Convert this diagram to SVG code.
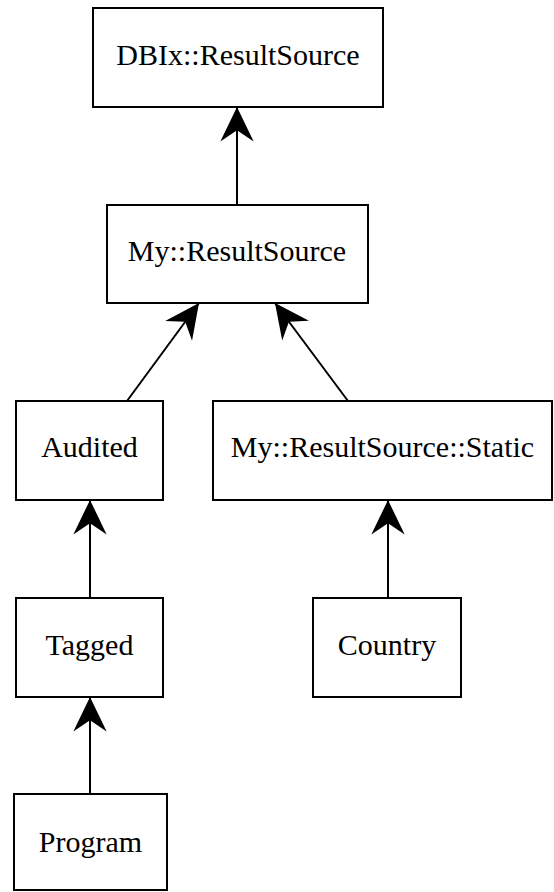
<svg xmlns="http://www.w3.org/2000/svg" width="554" height="892" viewBox="0 0 554 892">
  <style>
    .box { fill: #ffffff; stroke: #000000; stroke-width: 2; }
    .label { font-family: "Liberation Serif", "Times New Roman", serif; font-size: 30px; fill: #000000; text-anchor: middle; }
    .edge { fill: none; stroke: #000000; stroke-width: 2; marker-end: url(#vee); }
  </style>
  <defs>
    <marker id="vee" markerUnits="userSpaceOnUse" markerWidth="40" markerHeight="40" viewBox="-34 -18 36 36" refX="0" refY="0" orient="auto">
      <path d="M0,0 L-31,-15 L-21,0 L-31,15 Z" fill="#000000"/>
    </marker>
  </defs>
  <rect width="554" height="892" fill="#ffffff"/>

  <g id="connectors">
    <line class="edge" x1="237" y1="205" x2="237" y2="107"/>
    <line class="edge" x1="127" y1="401" x2="199" y2="303"/>
    <line class="edge" x1="348" y1="401" x2="275" y2="303"/>
    <line class="edge" x1="90" y1="598" x2="90" y2="500"/>
    <line class="edge" x1="388" y1="598" x2="388" y2="500"/>
    <line class="edge" x1="90" y1="794" x2="90" y2="697"/>
  </g>

  <g id="dbix-resultsource">
    <rect class="box" x="93" y="8" width="290" height="99"/>
    <text class="label" x="238" y="65">DBIx::ResultSource</text>
  </g>
  <g id="my-resultsource">
    <rect class="box" x="107" y="205" width="261" height="98"/>
    <text class="label" x="237" y="261">My::ResultSource</text>
  </g>
  <g id="audited">
    <rect class="box" x="16" y="401" width="147" height="99"/>
    <text class="label" x="89.5" y="457">Audited</text>
  </g>
  <g id="my-resultsource-static">
    <rect class="box" x="213" y="401" width="339" height="99"/>
    <text class="label" x="382.5" y="457">My::ResultSource::Static</text>
  </g>
  <g id="tagged">
    <rect class="box" x="16" y="598" width="147" height="99"/>
    <text class="label" x="89.5" y="655">Tagged</text>
  </g>
  <g id="country">
    <rect class="box" x="313" y="598" width="148" height="99"/>
    <text class="label" x="387" y="655">Country</text>
  </g>
  <g id="program">
    <rect class="box" x="14" y="794" width="153" height="96"/>
    <text class="label" x="90.5" y="852">Program</text>
  </g>
</svg>
